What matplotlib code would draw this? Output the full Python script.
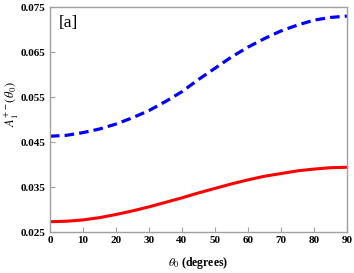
import matplotlib
matplotlib.use("Agg")
import matplotlib.pyplot as plt

# angle theta_0 (degrees) and the two curves
theta = [0, 5, 10, 15, 20, 25, 30, 35, 40, 45, 50, 55, 60, 65, 70, 75, 80, 85, 90]
blue_dashed = [0.0463, 0.0465, 0.0471, 0.0479, 0.0490, 0.0504, 0.0520, 0.0540, 0.0562, 0.0589,
               0.0614, 0.0639, 0.0661, 0.0680, 0.0697, 0.0710, 0.0721, 0.0727, 0.0730]
red_solid = [0.0273, 0.0274, 0.0277, 0.0282, 0.0289, 0.0297, 0.0306, 0.0316, 0.0326, 0.0337,
             0.0347, 0.0357, 0.0366, 0.0374, 0.0380, 0.0386, 0.0390, 0.0393, 0.0394]

xticks = [0, 10, 20, 30, 40, 50, 60, 70, 80, 90]
yticks = [0.025, 0.035, 0.045, 0.055, 0.065, 0.075]

plt.rcParams['font.family'] = ['Liberation Serif', 'DejaVu Serif']
plt.rcParams['mathtext.fontset'] = 'stix'

fig = plt.figure(figsize=(3.54, 2.73), dpi=100)
ax = fig.add_axes([0.141, 0.150, 0.839, 0.824])

ax.plot(theta, blue_dashed, color='#0000ff', lw=2.3, ls=(0, (3, 1.6)))
ax.plot(theta, red_solid, color='#ff0000', lw=2.2)

ax.set_xlim(0, 90)
ax.set_ylim(0.025, 0.075)
ax.set_xticks(xticks)
ax.set_yticks(yticks)
ax.set_yticklabels([f"{v:.3f}" for v in yticks])

gray = '#a0a0a0'
for s in ax.spines.values():
    s.set_color(gray)
    s.set_linewidth(1.0)
ax.tick_params(direction='in', length=3.5, width=0.8, color=gray,
               labelsize=8, pad=3)
for lab in ax.get_xticklabels() + ax.get_yticklabels():
    lab.set_fontweight('bold')

ax.set_xlabel(r'$\theta_0$ (degrees)', fontsize=8.5, fontweight='bold', labelpad=7)
ax.set_ylabel(r'$A_1^{+-}(\theta_0)$', fontsize=9)
ax.yaxis.set_label_coords(-0.098, 0.57)
ax.text(0.03, 0.965, '[a]', transform=ax.transAxes, fontsize=12.5,
        va='top', ha='left')

fig.savefig('out.png', dpi=100)
